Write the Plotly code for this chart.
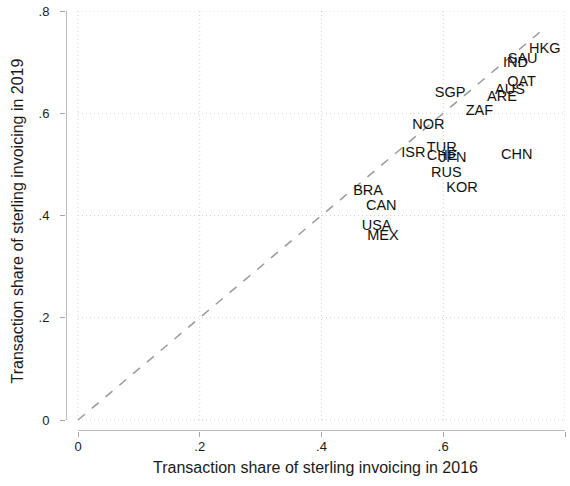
import plotly.graph_objects as go

# sterling invoicing shares by country, 2016 vs 2019
countries = ["HKG", "SAU", "IND", "QAT", "AUS", "ARE", "SGP", "ZAF", "NOR", "ISR",
             "TUR", "CHE", "JPN", "RUS", "KOR", "CHN", "BRA", "CAN", "USA", "MEX"]
share_2016 = [0.741, 0.706, 0.698, 0.705, 0.685, 0.672, 0.586, 0.637, 0.549, 0.531,
              0.573, 0.573, 0.593, 0.580, 0.605, 0.695, 0.452, 0.473, 0.466, 0.475]
share_2019 = [0.724, 0.706, 0.698, 0.661, 0.645, 0.632, 0.638, 0.604, 0.577, 0.522,
              0.532, 0.516, 0.511, 0.483, 0.454, 0.518, 0.448, 0.417, 0.378, 0.360]

# 45 degree line
diag = [0, 0.77]
ticks = [0, 0.2, 0.4, 0.6, 0.8]
tick_text = ["0", ".2", ".4", ".6", ".8"]

font = "Liberation Sans, Arial, sans-serif"
axcol = "#a6a6a6"

fig = go.Figure()
fig.add_trace(go.Scatter(
    x=diag, y=diag, mode="lines",
    line=dict(color="#999999", width=1.5, dash="dash"),
    hoverinfo="skip"
))
fig.add_trace(go.Scatter(
    x=share_2016, y=share_2019, mode="text",
    text=countries, textposition="middle right",
    textfont=dict(family=font, size=14.5, color="#111111"),
    cliponaxis=False
))

# small offsets so axis lines sit apart from the plot region (stata look)
xpad = 12 / 608.75
ypad = 11 / 511.25

fig.update_layout(
    width=570, height=486,
    margin=dict(l=66, r=5, t=11, b=55),
    paper_bgcolor="white", plot_bgcolor="white",
    showlegend=False,
    font=dict(family=font, color="#1a1a1a"),
    xaxis=dict(
        range=[-xpad, 0.8], tickvals=ticks, ticktext=tick_text,
        showgrid=False, zeroline=False, showline=False, automargin=False,
        ticks="outside", ticklen=5, tickcolor=axcol, ticklabelstandoff=-2,
        tickfont=dict(size=13),
    ),
    yaxis=dict(
        range=[-ypad, 0.8], tickvals=ticks, ticktext=tick_text,
        showgrid=False, zeroline=False, showline=False, automargin=False,
        ticks="outside", ticklen=5, tickcolor=axcol, ticklabelstandoff=8,
        tickfont=dict(size=13),
    ),
)

# axis titles as annotations so they sit where stata puts them
fig.add_annotation(text="Transaction share of sterling invoicing in 2016",
                   xref="paper", yref="paper", x=0.5, y=0, yshift=-26,
                   xanchor="center", yanchor="top", showarrow=False,
                   font=dict(size=16))
fig.add_annotation(text="Transaction share of sterling invoicing in 2019",
                   xref="paper", yref="paper", x=0, y=0.5, xshift=-60,
                   xanchor="left", yanchor="middle", textangle=-90,
                   showarrow=False, font=dict(size=16))

# dotted grid lines at the ticks
grid = dict(color="#cfcfcf", width=1, dash="1px,3px")
for t in ticks:
    fig.add_shape(type="line", x0=t, x1=t, y0=0, y1=0.8, xref="x", yref="y",
                  line=grid, layer="below")
    fig.add_shape(type="line", x0=0, x1=0.8, y0=t, y1=t, xref="x", yref="y",
                  line=grid, layer="below")

# axis lines
fig.add_shape(type="line", x0=-xpad, x1=-xpad, y0=0, y1=0.8, xref="x", yref="y",
              line=dict(color=axcol, width=1.5))
fig.add_shape(type="line", x0=0, x1=0.8, y0=-ypad, y1=-ypad, xref="x", yref="y",
              line=dict(color=axcol, width=1.5))

# drop the default page margin so the figure fills the window
fig.write_html("out.html", config={"displayModeBar": False},
               post_script="document.body.style.margin='0';")
